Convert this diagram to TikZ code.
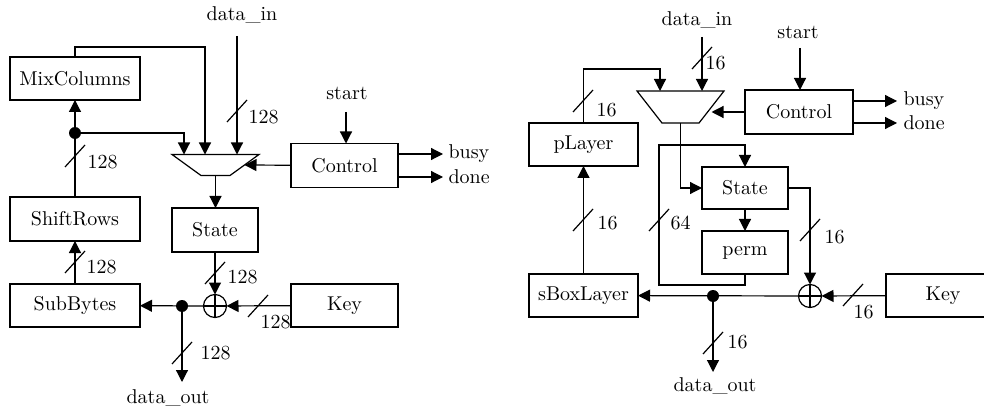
\documentclass[tikz,border=0pt]{standalone}
\usetikzlibrary{arrows.meta,shapes.geometric}
\tikzset{
  blk/.style={draw,inner sep=0pt,outer sep=0pt},
  mux/.style={draw,trapezium,shape border rotate=180,trapezium stretches=true,inner sep=1pt,outer sep=0pt},
  xorc/.style={draw,circle,minimum size=11.5pt,inner sep=0pt,outer sep=0pt},
  dot/.style={fill,circle,minimum size=6pt,inner sep=0pt},
  lbl/.style={inner sep=0pt},
  arr/.style={-{Triangle[length=6pt,width=6pt]}}
}
\newcommand{\buswidth}[5]{\draw (#1,#2)++(-10,11)--++(20,-22);
\node[lbl,anchor=west] (bw-#1-#2) at (#1+#4,#2+#5) {#3};}

\begin{document}
\begin{tikzpicture}[x=0.5pt,y=-0.5pt,line width=0.6pt]
\useasboundingbox (0,0) rectangle (984,411);
% left: AES round
\node[blk,minimum width=65pt,minimum height=21.5pt] (mix1) at (75,78.5) {MixColumns};
\node[blk,minimum width=65pt,minimum height=22pt] (shift1) at (75,219) {ShiftRows};
\node[blk,minimum width=65pt,minimum height=21.5pt] (sub1) at (75,305.5) {SubBytes};
\node[blk,minimum width=43pt,minimum height=22pt] (state1) at (215,230) {State};
\node[blk,minimum width=53.5pt,minimum height=21.5pt] (key1) at (344.5,305.5) {Key};
\node[blk,minimum width=53.5pt,minimum height=22pt] (ctrl1) at (344.5,165.5) {Control};
\node[mux,minimum width=43.5pt,minimum height=10.5pt,trapezium angle=45] (mux1) at (215.5,165) {};
\node[xorc] (xor1) at (215,306) {};
\node[lbl] (tin1) at (242,15) {data\_in};
\coordinate (in1) at (237,36);
\node[lbl] (tout1) at (168,398) {data\_out};
\coordinate (out1) at (182,382);
\node[lbl] (tst1) at (347,93) {start};
\coordinate (st1) at (346,112);

\draw[arr] (in1) -- (in1 |- mux1.north);
\draw[arr] (mix1.north) -- ++(0,-10) -| ([xshift=-5.25pt]mux1.north);
\draw[arr] (75,133) -| ([xshift=-15.75pt]mux1.north);
\draw[arr] (75,133) -- (mix1);
\draw (shift1) -- (75,133);
\draw[arr] (sub1) -- (shift1);
\draw[arr] (mux1.south) -- (mux1.south |- state1.north);
\draw[arr] (state1) -- (xor1);
\draw[arr] (key1) -- (xor1);
\draw[arr] (xor1) -- (sub1);
\draw (xor1.north) -- (xor1.south) (xor1.west) -- (xor1.east);
\draw[arr] (182,306) -- (out1);
\draw[arr] (st1) -- (st1 |- ctrl1.north);
\draw[arr] (ctrl1) -- (mux1.east);
\draw[arr] ([yshift=5.75pt]ctrl1.east) -- ++(45,0) node[lbl,right=2.5pt] (busy1) {busy};
\draw[arr] ([yshift=-5.75pt]ctrl1.east) -- ++(45,0) node[lbl,right=2.5pt] (done1) {done};
\node[dot] (dot1) at (75,133) {};
\node[dot] (dot2) at (182,306) {};

\buswidth{237}{111}{128}{11}{6}
\buswidth{75}{156}{128}{12}{6}
\buswidth{75}{262}{128}{11}{5}
\buswidth{215}{273}{128}{12}{4}
\buswidth{258}{306}{128}{2}{16}
\buswidth{182}{353}{128}{18}{0}

% right: PRESENT round
\node[blk,minimum width=54.5pt,minimum height=21.5pt] (play) at (583.5,144.5) {pLayer};
\node[blk,minimum width=54.5pt,minimum height=21.5pt] (sbox) at (583.5,295.5) {sBoxLayer};
\node[blk,minimum width=43pt,minimum height=21pt] (state2) at (745,188) {State};
\node[blk,minimum width=43pt,minimum height=21.5pt] (perm) at (745,252.5) {perm};
\node[blk,minimum width=54pt,minimum height=22pt] (ctrl2) at (799,112) {Control};
\node[blk,minimum width=57pt,minimum height=21.5pt] (key2) at (943,295.5) {Key};
\node[mux,minimum width=43.5pt,minimum height=16pt,trapezium angle=56] (mux2) at (680.5,107) {};
\node[xorc] (xor2) at (810,296) {};
\node[lbl] (tin2) at (697,20) {data\_in};
\coordinate (in2) at (702,37);
\node[lbl] (tout2) at (715,386) {data\_out};
\coordinate (out2) at (713,372);
\node[lbl] (tst2) at (798,32) {start};
\coordinate (st2) at (800,48);

\draw[arr] (in2) -- (in2 |- mux2.north);
\draw[arr] (play.north) -- ++(0,-54) -| ([xshift=-10.25pt]mux2.north);
\draw[arr] (mux2.south) |- (state2.west);
\draw[arr] (state2) -- (perm);
\draw[arr] (perm.south) -- ++(0,11) -| ++(-86,-140) -| (state2.north);
\draw[arr] (state2.east) -| (xor2.north);
\draw[arr] (key2) -- (xor2);
\draw[arr] (xor2) -- (sbox);
\draw (xor2.north) -- (xor2.south) (xor2.west) -- (xor2.east);
\draw[arr] (713,296) -- (out2);
\draw[arr] (sbox) -- (play);
\draw[arr] (st2) -- (st2 |- ctrl2.north);
\draw[arr] (ctrl2) -- (ctrl2 -| mux2.east);
\draw[arr] ([yshift=5.5pt]ctrl2.east) -- ++(44,0) node[lbl,right=3pt] (busy2) {busy};
\draw[arr] ([yshift=-5.5pt]ctrl2.east) -- ++(44,0) node[lbl,right=3pt] (done2) {done};
\node[dot] (dot3) at (713,296) {};

\buswidth{702}{58}{16}{3}{5}
\buswidth{583}{101}{16}{13}{9}
\buswidth{583}{220}{16}{14}{3}
\buswidth{659}{220}{64}{11}{3}
\buswidth{810}{230}{16}{14}{7}
\buswidth{853}{295}{16}{0}{17}
\buswidth{713}{343}{16}{14}{-1}
\end{tikzpicture}
\end{document}
